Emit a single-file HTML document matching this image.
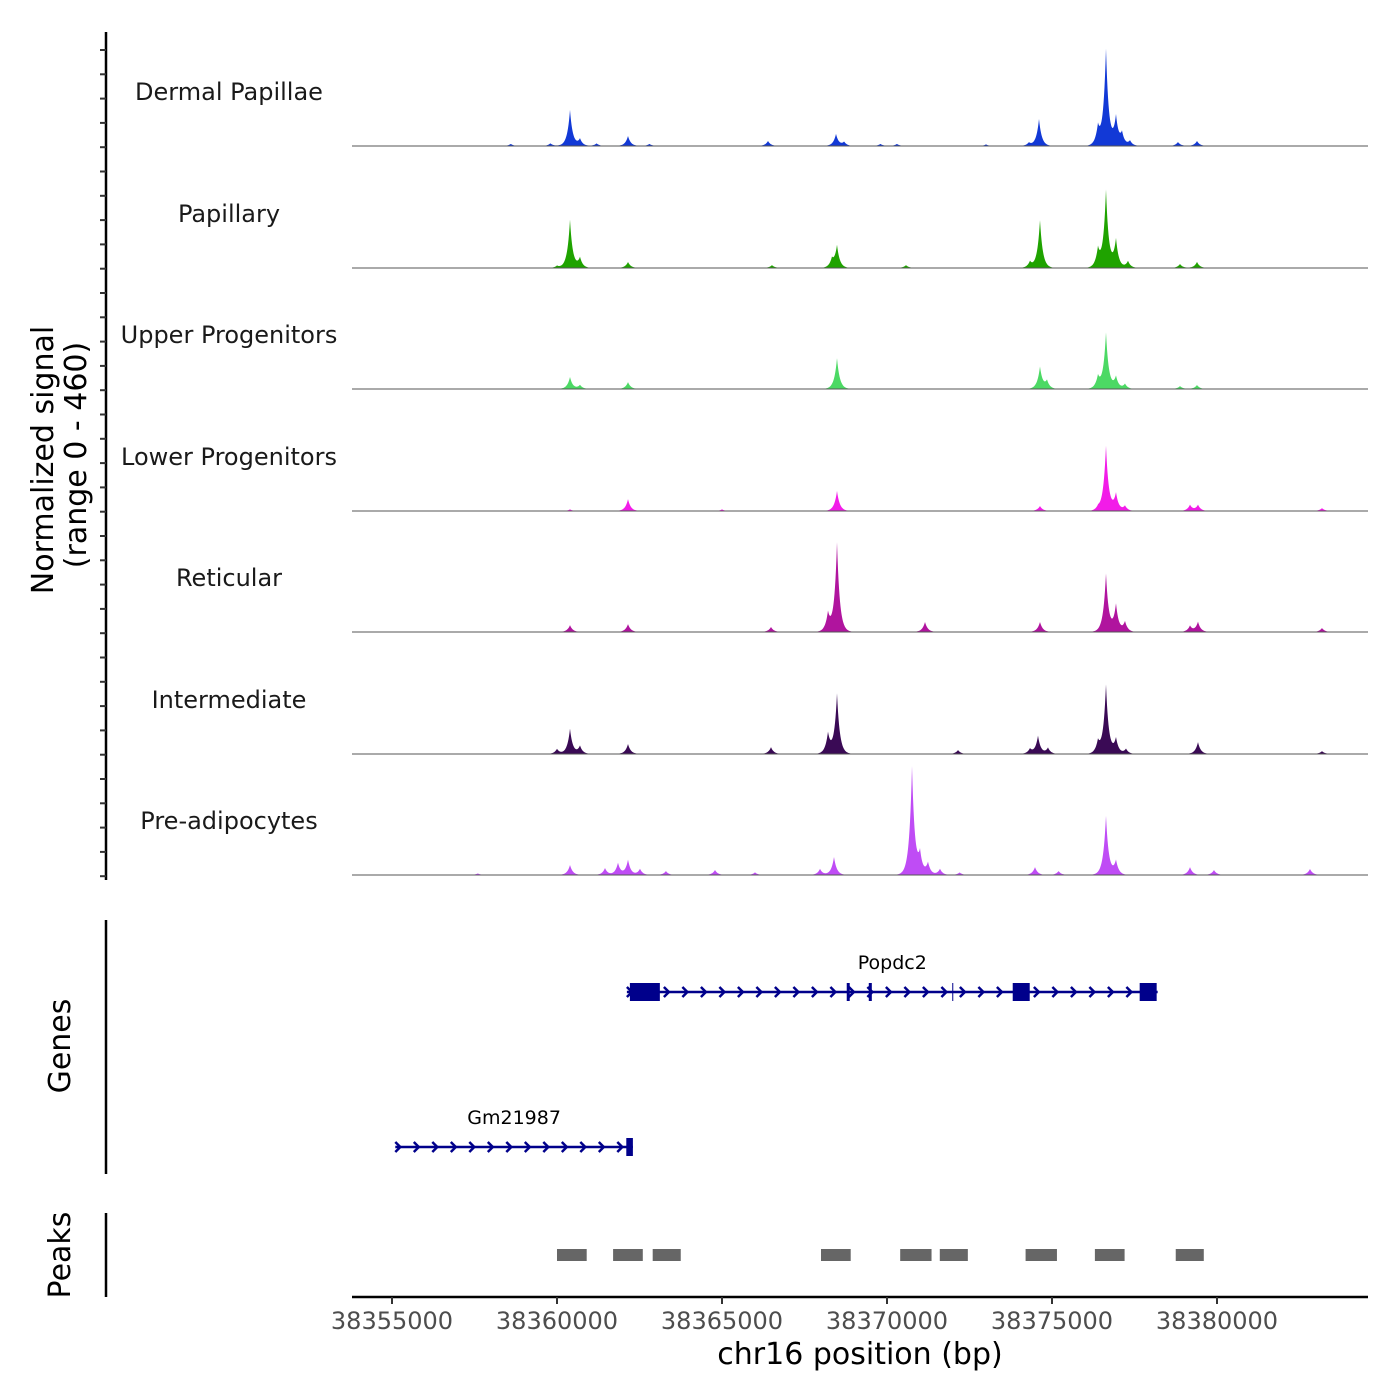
<!DOCTYPE html>
<html><head><meta charset="utf-8">
<style>
html,body{margin:0;padding:0;background:#fff;}
svg{display:block;font-family:"DejaVu Sans","Liberation Sans",sans-serif;}
</style></head>
<body>
<svg id="chart" width="1400" height="1400" viewBox="0 0 1400 1400" xmlns="http://www.w3.org/2000/svg">
<g id="tracks"></g>
<g id="left"></g>
<g id="genes"></g>
<g id="peaks"></g>
<g id="xaxis"></g>
</svg>
<script>
// ---- data ----
const trackNames = ["Dermal Papillae","Papillary","Upper Progenitors","Lower Progenitors","Reticular","Intermediate","Pre-adipocytes"];
const trackColors = ["#1239d6","#1fa300","#4cd964","#f21ce8","#b0149e","#3a0a55","#bf4cf5"];
const dpPos = [38358600,38359800,38360394,38360697,38361200,38362152,38362800,38366394,38368455,38368700,38369800,38370300,38373000,38374300,38374606,38376394,38376636,38376939,38377121,38377364,38378818,38379394];
const dpVal = [8,10,136,26,10,38,8,19,45,15,8,8,6,12,102,68,364,106,45,19,15,19];
const papPos = [38360000,38360394,38360697,38362152,38366515,38368333,38368485,38370576,38374333,38374636,38376394,38376636,38376939,38377303,38378879,38379394];
const papVal = [8,182,38,23,11,30,83,11,23,182,68,292,106,26,15,23];
const upPos = [38360394,38360697,38362152,38368485,38374636,38374848,38376394,38376636,38376939,38377212,38378879,38379394];
const upVal = [45,15,26,117,83,30,45,212,45,19,11,15];
const lowPos = [38360394,38362152,38365000,38368485,38374636,38376400,38376636,38376939,38377212,38379182,38379424,38383182];
const lowVal = [6,45,6,76,19,12,246,64,19,23,23,11];
const retPos = [38360394,38362152,38366485,38368212,38368485,38371152,38374636,38376636,38376939,38377212,38379182,38379424,38383182];
const retVal = [26,30,19,68,337,38,38,220,102,38,23,38,15];
const intPos = [38360000,38360394,38360697,38362152,38366485,38368212,38368485,38372152,38374333,38374576,38374879,38376394,38376636,38376939,38377242,38379424,38383182];
const intVal = [19,95,30,38,26,76,227,15,19,68,23,45,261,57,19,45,11];
const prePos = [38357600,38360394,38361455,38361848,38362152,38362515,38363300,38364788,38366000,38367970,38368394,38370758,38371000,38371242,38371606,38372200,38374485,38375200,38376636,38376939,38379182,38379909,38382818];
const preVal = [6,38,26,45,57,23,15,19,10,23,68,409,76,45,23,10,30,15,224,53,30,19,23];
const trackPos = [dpPos,papPos,upPos,lowPos,retPos,intPos,prePos];
const trackVals = [dpVal,papVal,upVal,lowVal,retVal,intVal,preVal];
const yMax = 460;
const xTicks = [38355000,38360000,38365000,38370000,38375000,38380000];
const genes = [
 {name:"Popdc2", start:38362118, end:38378202, row:0, exons:[[38362209,38363117],[38368780,38368870],[38369448,38369540],[38373810,38374325],[38377657,38378172]], marks:[38371993]},
 {name:"Gm21987", start:38355100, end:38362300, row:1, exons:[[38362100,38362300]], marks:[]}
];
const peakStarts = [38360000,38361700,38362900,38368000,38370400,38371600,38374200,38376300,38378750];
const peakEnds   = [38360900,38362600,38363750,38368900,38371350,38372450,38375150,38377200,38379600];

// ---- scales ----
const X0=352, X1=1368, BP0=38353788, BP1=38384576;
const xs = bp => X0 + (bp-BP0)/(BP1-BP0)*(X1-X0);
const baselines=[146,268,389,511,632,754,875];
const trackH=121.5;
const ys = (v,i) => baselines[i] - v/yMax*trackH;
const NS="http://www.w3.org/2000/svg";
function mk(tag,attrs,parent){const e=document.createElementNS(NS,tag);for(const k in attrs)e.setAttribute(k,attrs[k]);parent.appendChild(e);return e;}

// ---- tracks ----
const gT=document.getElementById('tracks');
trackNames.forEach((nm,i)=>{
  const g=mk('g',{},gT);
  
  
  let d='M'+X0+','+baselines[i];
  for(let px=X0;px<=X1;px+=0.5){
    const bp=BP0+(px-X0)/(X1-X0)*(BP1-BP0);
    let v=0;
    trackPos[i].forEach((p,k)=>{v+=trackVals[i][k]*Math.exp(-Math.abs(bp-p)/85);});
    d+=' L'+px.toFixed(1)+','+ys(v,i).toFixed(2);
  }
  d+=' L'+X1+','+baselines[i]+' Z';
  const a=mk('path',{d:d,fill:trackColors[i]},g);
  
  
  const b=mk('line',{x1:X0,x2:X1,y1:baselines[i],y2:baselines[i],stroke:'#555','stroke-width':1},g);
  
  
  const t=mk('text',{x:229,y:baselines[i]-46,'text-anchor':'middle','font-size':24,fill:'#1a1a1a'},g);
  t.textContent=nm;
  
  
});

// ---- left axes ----
const gL=document.getElementById('left');
mk('line',{x1:106,x2:106,y1:32,y2:880,stroke:'#000','stroke-width':2.5},gL);
for(let y=50;y<=880;y+=24.3){mk('line',{x1:100,x2:106,y1:y,y2:y,stroke:'#333','stroke-width':2},gL);}
const yt=mk('text',{transform:'translate(53,460) rotate(-90)','text-anchor':'middle','font-size':30,fill:'#000'},gL);
yt.textContent='Normalized signal';


const yt2=mk('text',{transform:'translate(86,455) rotate(-90)','text-anchor':'middle','font-size':30,fill:'#000'},gL);
yt2.textContent='(range 0 - 460)';


mk('line',{x1:106,x2:106,y1:920,y2:1174,stroke:'#000','stroke-width':2.5},gL);
mk('line',{x1:106,x2:106,y1:1213,y2:1297,stroke:'#000','stroke-width':2.5},gL);
const gt=mk('text',{transform:'translate(70,1046) rotate(-90)','text-anchor':'middle','font-size':30,fill:'#000'},gL);
gt.textContent='Genes';


const pt=mk('text',{transform:'translate(70,1255) rotate(-90)','text-anchor':'middle','font-size':30,fill:'#000'},gL);
pt.textContent='Peaks';



// ---- genes ----
const gG=document.getElementById('genes');
const rowY=[992,1147];
genes.forEach(gn=>{
  const g=mk('g',{},gG);
  
  
  const y=rowY[gn.row];
  const x1=xs(gn.start), x2=xs(gn.end);
  mk('line',{x1:x1,x2:x2,y1:y,y2:y,stroke:'#00008b','stroke-width':2.5},g);
  for(let x=x1+0;x<x2-4;x+=18.5){
    mk('polyline',{points:(x)+','+(y-5)+' '+(x+5)+','+y+' '+x+','+(y+5),fill:'none',stroke:'#00008b','stroke-width':2.5},g);
  }
  gn.exons.forEach(e=>{
    const r=mk('rect',{x:xs(e[0]),y:y-9,width:Math.max(3,xs(e[1])-xs(e[0])),height:18,fill:'#00008b'},g);
    
    
  });
  gn.marks.forEach(m=>{mk('line',{x1:xs(m),x2:xs(m),y1:y-9,y2:y+9,stroke:'#00008b','stroke-width':1},g);});
  const t=mk('text',{x:(x1+x2)/2,y:y-23,'text-anchor':'middle','font-size':19,fill:'#000'},g);
  t.textContent=gn.name;
  
  
});

// ---- peaks ----
const gP=document.getElementById('peaks');
peakStarts.forEach((s,i)=>{
  const r=mk('rect',{x:xs(s),y:1249,width:xs(peakEnds[i])-xs(s),height:12,fill:'#666'},gP);
  
  
});

// ---- x axis ----
const gX=document.getElementById('xaxis');
mk('line',{x1:X0,x2:X1,y1:1297,y2:1297,stroke:'#000','stroke-width':2.5},gX);
xTicks.forEach(t=>{
  const x=xs(t);
  mk('line',{x1:x,x2:x,y1:1297,y2:1304,stroke:'#333','stroke-width':2},gX);
  const l=mk('text',{x:x,y:1329,'text-anchor':'middle','font-size':24,fill:'#4d4d4d'},gX);
  l.textContent=t;
  
  
});
const xt=mk('text',{x:860,y:1364,'text-anchor':'middle','font-size':30,fill:'#000'},gX);
xt.textContent='chr16 position (bp)';


</script>
</body></html>
